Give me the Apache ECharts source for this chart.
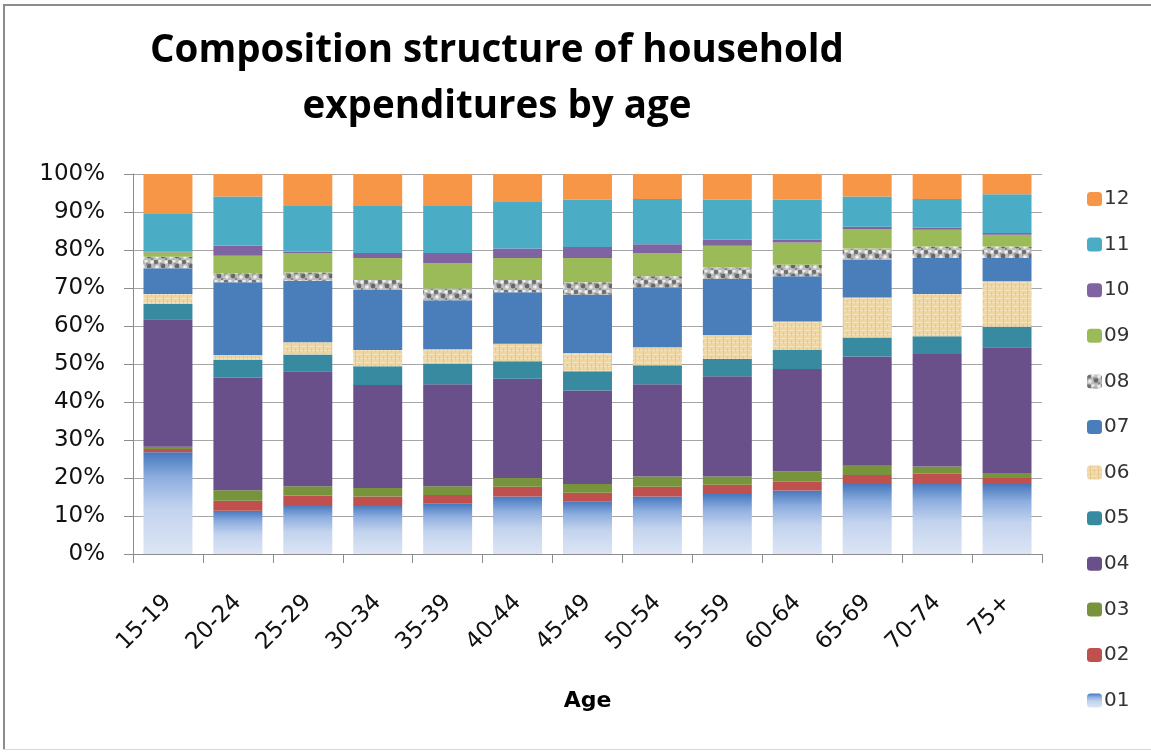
<!DOCTYPE html>
<html>
<head>
<meta charset="utf-8">
<script src="https://cdn.jsdelivr.net/npm/echarts@6/dist/echarts.min.js"></script>
<style>
  html, body { margin: 0; padding: 0; background: #fff; }
  #chart { width: 1151px; height: 752px; position: relative; }
  .frame-top { position: absolute; left: 3px; top: 4px; width: 1148px; height: 2px; background: #8c8c8c; z-index: 5; }
  .frame-left { position: absolute; left: 3px; top: 4px; width: 2px; height: 746px; background: #8c8c8c; z-index: 5; }
  .frame-bottom { position: absolute; left: 3px; top: 749px; width: 1148px; height: 1px; background: #d9d9d9; z-index: 5; }
</style>
</head>
<body>
<div style="position:relative;width:1151px;height:752px;">
  <div id="chart"></div>
  <div class="frame-top"></div>
  <div class="frame-left"></div>
  <div class="frame-bottom"></div>
</div>
<script>
const categories = ['15-19','20-24','25-29','30-34','35-39','40-44','45-49','50-54','55-59','60-64','65-69','70-74','75+'];
const yTicks = [0,10,20,30,40,50,60,70,80,90,100];

const s01 = [26.8,11.4,12.9,12.9,13.2,15.1,13.9,15.1,15.8,16.7,18.4,18.7,18.4];
const s02 = [0.8,2.6,2.5,2.2,2.3,2.6,2.2,2.6,2.4,2.3,2.4,2.4,1.6];
const s03 = [0.6,2.8,2.4,2.3,2.3,2.3,2.3,2.7,2.2,2.8,2.4,1.9,1.3];
const s04 = [33.6,29.6,30.3,27.1,26.9,26.1,24.6,24.3,26.4,26.9,28.8,29.6,33.1];
const s05 = [4.0,4.7,4.4,4.9,5.4,4.6,5.1,5.0,4.5,5.0,5.0,4.7,5.4];
const s06 = [2.6,1.3,3.2,4.3,3.8,4.6,4.8,4.7,6.3,7.5,10.5,11.1,12.0];
const s07 = [6.8,19.1,16.2,15.8,12.9,13.6,15.3,15.8,14.8,11.9,10.0,9.5,6.1];
const s08 = [3.0,2.4,2.2,2.6,3.1,3.2,3.3,2.9,3.0,3.0,2.9,3.0,3.0];
const s09 = [1.2,4.6,5.1,5.8,6.7,5.8,6.4,6.1,5.7,5.9,5.1,4.4,3.1];
const s10 = [0.2,2.6,0.4,1.3,2.6,2.5,2.9,2.3,1.6,0.7,0.6,0.6,0.5];
const s11 = [10.1,13.0,12.2,12.6,12.6,12.4,12.4,11.9,10.5,10.5,8.0,7.5,10.2];
const s12 = [10.3,5.9,8.2,8.2,8.2,7.2,6.8,6.6,6.8,6.8,5.9,6.6,5.3];

const seriesNames = ['01','02','03','04','05','06','07','08','09','10','11','12'];
const seriesData = [s01,s02,s03,s04,s05,s06,s07,s08,s09,s10,s11,s12];

// textures
function texture08() {
  const c = document.createElement('canvas'); c.width = 14; c.height = 10;
  const g = c.getContext('2d');
  g.fillStyle = '#bdbdbd'; g.fillRect(0,0,14,10);
  const spots = [[2,2,2.2,'#6f6f6f'],[9,6,2.4,'#666666'],[6,1,1.6,'#ececec'],[12,2,1.7,'#f2f2f2'],[3,7,1.8,'#efefef'],[7,4,1.2,'#909090'],[12,9,1.3,'#858585'],[0,5,1.2,'#9a9a9a']];
  spots.forEach(([x,y,r,col]) => { g.fillStyle = col; g.beginPath(); g.arc(x,y,r,0,Math.PI*2); g.fill(); });
  return c;
}
function texture06() {
  const c = document.createElement('canvas'); c.width = 8; c.height = 8;
  const g = c.getContext('2d');
  g.fillStyle = '#efd6a0'; g.fillRect(0,0,8,8);
  g.fillStyle = '#f5e3bd'; g.fillRect(0,2,8,1); g.fillRect(0,6,8,1);
  g.fillStyle = '#e4c88e'; g.fillRect(3,0,1,8); g.fillRect(7,4,1,3);
  return c;
}

const grad01 = new echarts.graphic.LinearGradient(0,0,0,1,[
  {offset:0, color:'#4677bd'},
  {offset:0.25, color:'#8eaedf'},
  {offset:0.55, color:'#c3d3ee'},
  {offset:1, color:'#dce5f5'}
]);

const colors = [
  grad01, '#c0504d', '#77933c', '#69508a', '#378a9f',
  {image: texture06(), repeat: 'repeat'}, '#4a7ebb',
  {image: texture08(), repeat: 'repeat'}, '#9bbb59', '#8064a2', '#4bacc6', '#f79646'
];

const TFONT = '"Open Sans", "Noto Sans", sans-serif';
const LFONT = '"DejaVu Sans", "Open Sans", sans-serif';

const chart = echarts.init(document.getElementById('chart'), null, {renderer: 'canvas'});
chart.setOption({
  animation: false,
  backgroundColor: '#fff',
  graphic: [
    {type: 'text', x: 497, y: 51, style: {text: 'Composition structure of household', x: 0, y: 0, textAlign: 'center', textVerticalAlign: 'middle', font: 'bold 38.5px ' + TFONT, fill: '#000'}},
    {type: 'text', x: 497, y: 107, style: {text: 'expenditures by age', x: 0, y: 0, textAlign: 'center', textVerticalAlign: 'middle', font: 'bold 38.5px ' + TFONT, fill: '#000'}}
  ],
  grid: {left: 133, right: 109, top: 174, bottom: 198, containLabel: false},
  legend: {
    orient: 'vertical',
    left: 1082,
    top: 184,
    itemWidth: 15,
    itemHeight: 14,
    itemGap: 25.6,
    data: seriesNames.slice().reverse(),
    textStyle: {fontSize: 20, color: '#333', fontFamily: LFONT, padding: [0,0,0,-3]}
  },
  xAxis: {
    type: 'category',
    data: categories,
    name: 'Age',
    nameLocation: 'middle',
    nameGap: 136,
    nameTextStyle: {fontSize: 22, fontWeight: 'bold', color: '#000', fontFamily: LFONT},
    axisLine: {lineStyle: {color: '#8c8c8c', width: 1}},
    axisTick: {show: true, length: 9, lineStyle: {color: '#8c8c8c'}},
    axisLabel: {rotate: 45, fontSize: 23, color: '#111', fontFamily: LFONT, margin: 45, interval: 0},
    splitLine: {show: false}
  },
  yAxis: {
    type: 'value',
    min: 0, max: 100, interval: 10,
    axisLine: {show: true, lineStyle: {color: '#8c8c8c', width: 1}},
    axisTick: {show: true, length: 9, lineStyle: {color: '#8c8c8c'}},
    axisLabel: {formatter: v => v + '%', fontSize: 23, color: '#111', fontFamily: LFONT, margin: 28},
    splitLine: {show: true, lineStyle: {color: '#a6a6a6', width: 1}}
  },
  series: seriesNames.map((n, i) => ({
    name: n,
    type: 'bar',
    stack: 'total',
    barCategoryGap: '30%',
    data: seriesData[i],
    itemStyle: {color: colors[i]}
  }))
});
</script>
</body>
</html>
